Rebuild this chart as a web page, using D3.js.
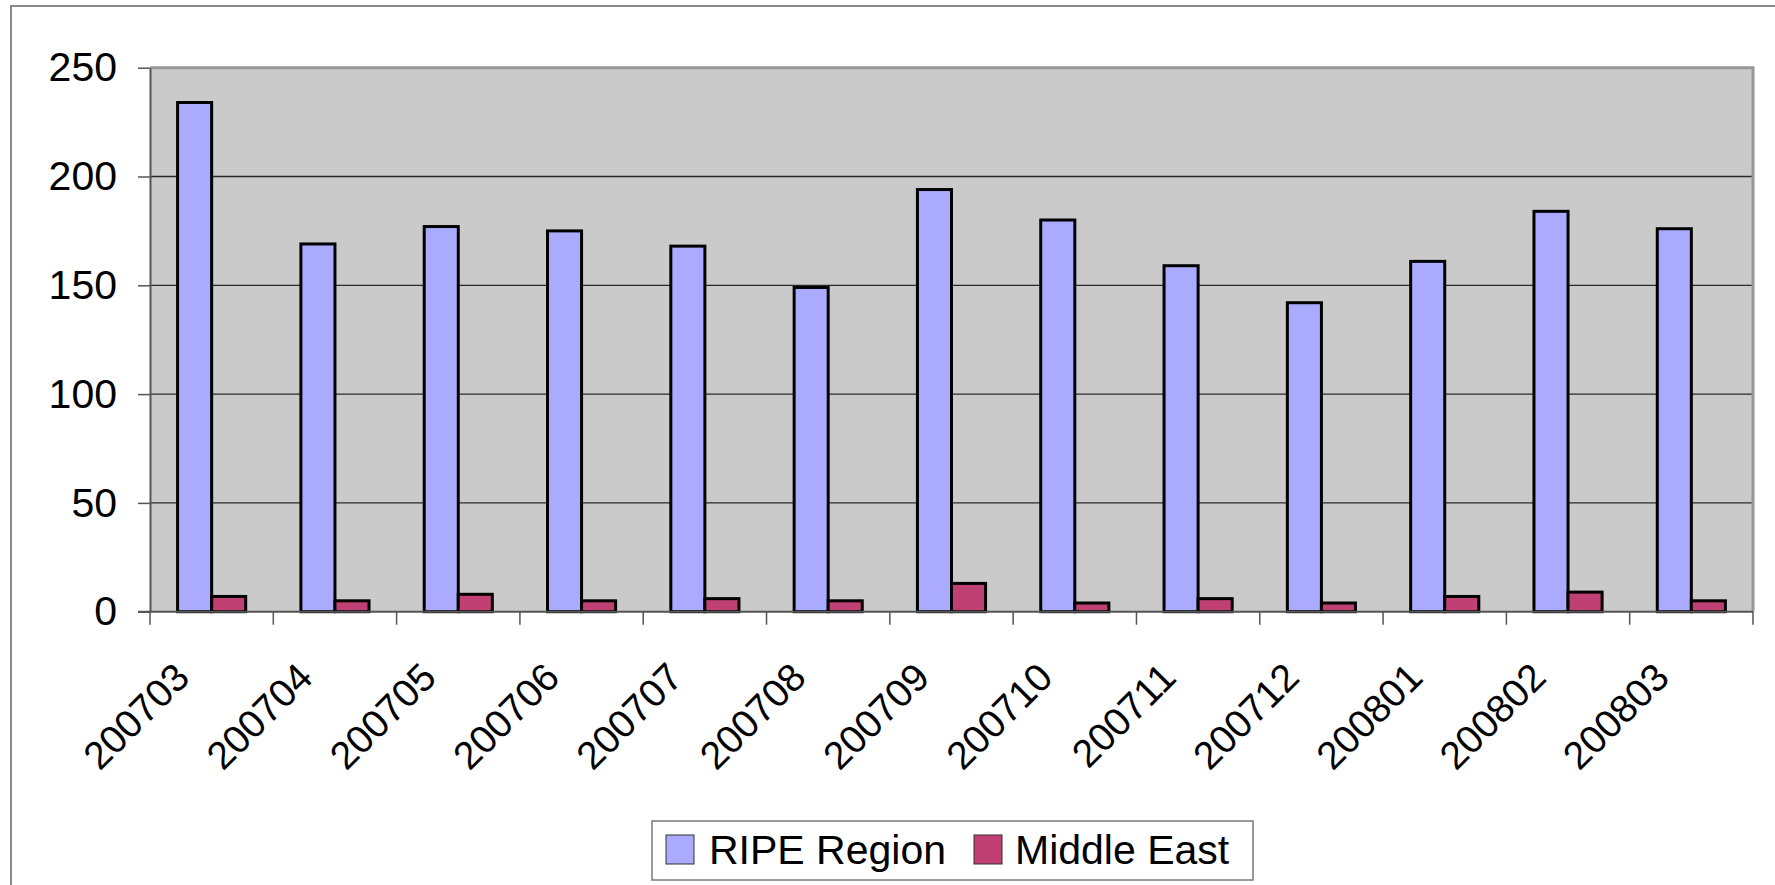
<!DOCTYPE html>
<html lang="en">
<head>
    <meta charset="UTF-8">
    <title>RIPE Region vs Middle East</title>
    <script src="https://d3js.org/d3.v7.min.js"></script>
    <style>
        body { margin: 0; background: #fff; }
        svg { display: block; font-family: "Liberation Sans", Arial, sans-serif; }
        .y-axis text { font-size: 41px; fill: #000; }
        .x-axis text { font-size: 39px; fill: #000; }
        .bar { stroke: #000; stroke-width: 3; }
    </style>
</head>
<body>
    <svg width="1775" height="885"></svg>
    <script>
        const months = ["200703", "200704", "200705", "200706", "200707", "200708", "200709",
                        "200710", "200711", "200712", "200801", "200802", "200803"];
        const ripe = [234, 169, 177, 175, 168, 149, 194, 180, 159, 142, 161, 184, 176];
        const middleEast = [7, 5, 8, 5, 6, 5, 13, 4, 6, 4, 7, 9, 5];
        const yTicks = [0, 50, 100, 150, 200, 250];
        const seriesNames = ["RIPE Region", "Middle East"];
        const colors = ["#aaaaff", "#c04073"];

        const data = months.map((m, i) => ({month: m, values: [ripe[i], middleEast[i]]}));

        const svg = d3.select("svg");
        const margin = {top: 67.7, left: 150, right: 22, bottom: 273.3};
        const W = +svg.attr("width"), H = +svg.attr("height");
        const x0Range = [margin.left, W - margin.right];
        const yRange = [H - margin.bottom, margin.top];

        // outer chart border (runs off the right/bottom of the picture)
        svg.append("rect")
            .attr("x", 11).attr("y", 6)
            .attr("width", W).attr("height", H)
            .attr("fill", "none")
            .attr("stroke", "#8a8a8a")
            .attr("stroke-width", 2);

        const x0 = d3.scaleBand().domain(months).range(x0Range);
        const x1 = d3.scaleBand().domain([0, 1]).range([0, x0.bandwidth()]).paddingOuter(0.81);
        const y = d3.scaleLinear().domain([0, 250]).range(yRange);

        // plot area
        svg.append("rect")
            .attr("x", x0Range[0]).attr("y", yRange[1])
            .attr("width", x0Range[1] - x0Range[0])
            .attr("height", yRange[0] - yRange[1])
            .attr("fill", "#cacaca");

        // gridlines
        svg.append("g")
            .selectAll("line")
            .data(yTicks.filter(d => d > 0 && d < 250))
            .join("line")
            .attr("x1", x0Range[0]).attr("x2", x0Range[1])
            .attr("y1", d => y(d)).attr("y2", d => y(d))
            .attr("stroke", "#2a2a2a")
            .attr("stroke-width", 1.3);

        // plot frame: top and right in gray
        svg.append("path")
            .attr("d", `M${x0Range[0]},${yRange[1]}H${x0Range[1]}V${yRange[0]}`)
            .attr("fill", "none")
            .attr("stroke", "#979797")
            .attr("stroke-width", 3);

        // bars
        const groups = svg.append("g")
            .selectAll("g")
            .data(data)
            .join("g")
            .attr("transform", d => `translate(${x0(d.month)},0)`);

        groups.selectAll("rect")
            .data(d => d.values.map((v, k) => ({k, v})))
            .join("rect")
            .attr("class", "bar")
            .attr("x", d => x1(d.k))
            .attr("width", x1.bandwidth())
            .attr("y", d => y(d.v))
            .attr("height", d => y(0) - y(d.v))
            .attr("fill", d => colors[d.k]);

        // y axis
        const yAxis = svg.append("g")
            .attr("class", "y-axis")
            .attr("transform", `translate(${x0Range[0]},0)`)
            .call(d3.axisLeft(y).tickValues(yTicks).tickSize(12).tickSizeOuter(0).tickPadding(21));
        yAxis.select(".domain").attr("stroke", "#555").attr("stroke-width", 2);
        yAxis.selectAll(".tick line").attr("stroke", "#555").attr("stroke-width", 1.5);

        // x axis
        const xAxis = svg.append("g")
            .attr("class", "x-axis")
            .attr("transform", `translate(0,${y(0)})`)
            .call(d3.axisBottom(x0).tickSize(0).tickSizeOuter(0));
        xAxis.select(".domain").attr("stroke", "#555").attr("stroke-width", 2)
            .attr("d", `M${x0Range[0] - 12},0H${x0Range[1]}`);
        xAxis.selectAll(".tick text")
            .attr("y", null).attr("dy", null)
            .attr("text-anchor", "end")
            .attr("transform", "translate(-20,68) rotate(-45)");

        // category separators below the axis
        xAxis.append("g")
            .selectAll("line")
            .data(months.map(m => x0(m)).concat([x0Range[1]]))
            .join("line")
            .attr("x1", d => d).attr("x2", d => d)
            .attr("y1", 0).attr("y2", 13)
            .attr("stroke", "#555")
            .attr("stroke-width", 1.5);

        // legend
        const legend = svg.append("g").attr("transform", "translate(652,821)");
        legend.append("rect")
            .attr("width", 601).attr("height", 59)
            .attr("fill", "#fff")
            .attr("stroke", "#7a7a7a")
            .attr("stroke-width", 1.5);
        const legendItems = [
            {sx: 14, tx: 57},
            {sx: 322, tx: 363}
        ];
        legendItems.forEach((it, k) => {
            legend.append("rect")
                .attr("x", it.sx).attr("y", 14)
                .attr("width", 28).attr("height", 29)
                .attr("fill", colors[k])
                .attr("stroke", "#333")
                .attr("stroke-width", 1);
            legend.append("text")
                .attr("x", it.tx).attr("y", 43)
                .attr("font-size", 41)
                .text(seriesNames[k]);
        });
    </script>
</body>
</html>
